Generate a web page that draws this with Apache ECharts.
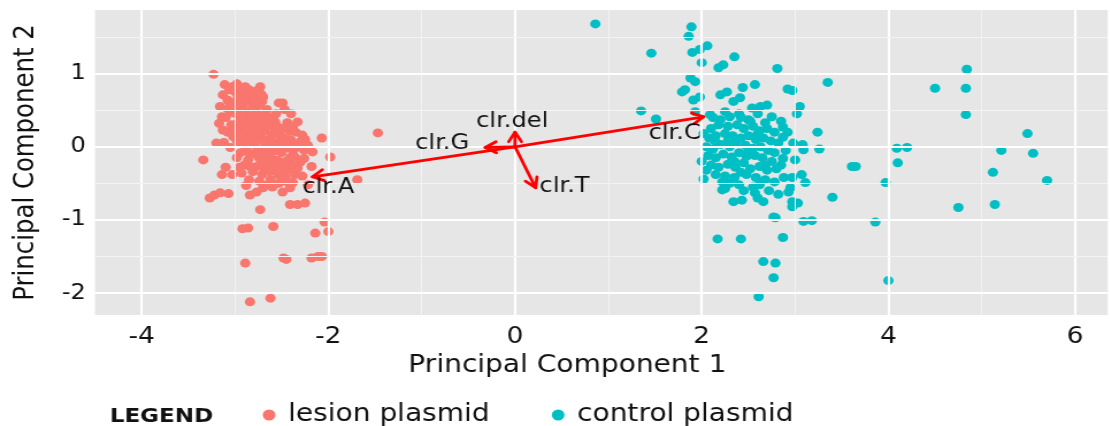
<!DOCTYPE html>
<html><head><meta charset="utf-8">
<script src="https://cdn.jsdelivr.net/npm/echarts@6/dist/echarts.min.js"></script>
<style>
html,body{margin:0;padding:0;background:#fff;overflow:hidden;}
#wrap{width:1110px;height:426px;overflow:hidden;}
#chart{height:426px;transform-origin:0 0;}
</style></head><body>
<div id="wrap"><div id="chart"></div></div>
<script>
// ---- data ----
const xTicks = [-4, -2, 0, 2, 4, 6];
const xMinor = [-3, -1, 1, 3, 5];
const yTicks = [-2, -1, 0, 1];
const yMinor = [-1.5, -0.5, 0.5, 1.5];
const seriesNames = ['lesion plasmid', 'control plasmid'];
const loadingNames = ['clr.A', 'clr.C', 'clr.G', 'clr.T', 'clr.del'];
const loadingX = [-2.17, 2.02, -0.32, 0.22, 0.0];
const loadingY = [-0.41, 0.41, -0.01, -0.56, 0.2];
const labelX = [-2.0, 1.71, -0.78, 0.53, -0.03];
const labelY = [-0.56, 0.18, 0.05, -0.55, 0.34];

const lesion = [
[-3.23,0.99],[-3.11,0.85],[-3.03,0.82],[-2.95,0.81],[-2.89,0.82],[-2.82,0.74],[-2.73,0.82],
[-3.13,0.71],[-3.08,0.64],[-3.02,0.60],[-2.97,0.67],[-2.92,0.55],[-2.84,0.62],[-2.77,0.67],[-2.71,0.62],[-2.66,0.51],[-2.70,0.68],
[-2.49,0.60],[-2.47,0.51],
[-3.14,0.41],[-3.05,0.47],[-2.95,0.40],[-2.86,0.37],[-2.77,0.47],[-2.71,0.34],
[-2.57,0.34],[-2.33,0.34],
[-3.13,0.23],[-3.02,0.14],[-2.92,0.27],[-2.86,0.21],[-2.77,0.14],[-2.68,0.21],[-2.60,0.16],[-2.52,0.16],[-2.41,0.21],[-2.28,0.16],[-2.25,0.10],
[-2.07,0.12],[-3.34,-0.18],
[-3.05,-0.01],[-2.95,0.05],[-2.84,0.10],[-2.73,-0.04],[-2.63,0.00],[-2.54,0.05],[-2.44,-0.01],[-2.34,0.03],
[-2.17,-0.07],[-1.98,-0.14],
[-2.98,-0.15],[-2.86,-0.18],[-2.75,-0.14],[-2.66,-0.21],[-2.55,-0.18],[-2.41,-0.15],[-2.30,-0.21],
[-2.18,-0.27],
[-3.14,-0.38],[-3.03,-0.38],[-2.93,-0.36],[-2.81,-0.34],[-2.71,-0.38],[-2.63,-0.34],[-2.54,-0.38],[-2.43,-0.31],[-2.33,-0.29],
[-3.22,-0.66],[-3.16,-0.63],[-3.07,-0.64],[-3.27,-0.70],
[-2.84,-0.66],[-2.77,-0.62],[-2.70,-0.56],[-2.65,-0.52],
[-2.49,-0.62],[-2.41,-0.56],[-2.38,-0.49],
[-2.41,-0.79],[-2.33,-0.79],[-2.25,-0.77],
[-2.73,-0.86],[-2.92,-1.12],[-2.86,-1.11],[-2.59,-1.09],
[-2.04,-1.03],[-2.14,-1.18],[-2.00,-1.16],
[-2.89,-1.59],[-2.48,-1.52],[-2.45,-1.54],[-2.18,-1.52],[-2.11,-1.50],[-2.07,-1.50],
[-2.84,-2.12],[-2.62,-2.07],
[-1.69,-0.45],[-1.47,0.19],
[-3.00,0.75],[-2.93,0.72],[-2.87,0.69],[-2.80,0.70],[-2.76,0.77],[-2.90,0.62],[-2.98,0.53],[-2.88,0.48],[-2.81,0.55],[-2.74,0.57],
[-2.67,0.45],[-3.08,0.52],[-2.99,0.45],[-2.93,0.45],[-2.82,0.42],[-2.76,0.39],[-2.64,0.40],[-2.61,0.30],[-2.97,0.33],[-2.90,0.33],
[-2.80,0.28],[-2.73,0.27],[-2.66,0.28],[-2.95,0.19],[-2.89,0.14],[-2.82,0.18],[-2.74,0.20],[-2.70,0.10],[-2.63,0.10],[-2.57,0.22],
[-2.47,0.12],[-2.40,0.09],[-2.35,0.20],[-2.30,0.07],[-2.91,0.07],[-2.80,0.03],[-2.68,0.05],[-2.58,-0.06],[-2.50,-0.08],[-2.38,-0.06],
[-2.79,-0.09],[-2.69,-0.11],[-2.90,-0.25],[-2.77,-0.27],[-2.61,-0.27],[-2.50,-0.25],[-2.40,-0.24],[-2.85,-0.45],[-2.62,-0.45],[-2.53,-0.50],
[-2.46,-0.42],[-2.28,-0.40],[-2.22,-0.52],[-3.16,0.55],[-3.17,0.32],[-3.12,0.06],[-2.50,-0.47],
[-3.06,0.78],[-2.98,0.86],[-2.85,0.78],[-2.78,0.60],[-2.72,0.72],[-2.95,0.60],[-3.05,0.56],[-3.10,0.40],[-3.04,0.30],[-3.08,0.20],
[-3.00,0.25],[-2.85,0.30],[-2.78,0.35],[-2.70,0.40],[-2.62,0.36],[-2.55,0.28],[-2.48,0.25],[-2.44,0.33],[-2.38,0.27],[-2.98,0.08],
[-2.88,-0.02],[-2.76,0.08],[-2.66,-0.06],[-2.60,0.06],[-2.52,0.00],[-2.46,0.06],[-2.36,-0.02],[-2.26,-0.05],[-2.22,0.02],[-2.94,-0.08],
[-2.84,-0.10],[-2.72,-0.20],[-2.62,-0.16],[-2.46,-0.20],[-2.36,-0.14],[-2.26,-0.16],[-2.95,-0.28],[-2.84,-0.27],[-2.70,-0.28],[-2.56,-0.30],
[-2.46,-0.33],[-2.36,-0.38],[-2.88,-0.53],[-2.74,-0.47],[-2.60,-0.55],[-2.44,-0.48],[-3.10,-0.28],[-3.20,0.05],[-2.56,0.45],[-2.53,0.60],[-2.40,0.45]
];

const control = [
[0.86,1.68],[1.89,1.64],[1.86,1.51],[1.46,1.28],[1.90,1.29],[1.98,1.33],[2.06,1.38],[2.00,1.15],[2.35,1.23],[2.18,1.08],[2.23,1.12],[2.81,1.07],
[1.88,0.94],[1.93,0.89],[1.79,0.75],[1.82,0.78],[1.98,0.68],[1.91,0.64],[1.35,0.49],[1.51,0.38],[1.93,0.48],[2.09,0.44],
[2.20,0.71],[2.27,0.75],[2.44,0.81],[2.57,0.85],[2.34,0.62],[2.41,0.67],[2.54,0.53],[2.63,0.55],[2.70,0.57],[2.20,0.37],[2.30,0.41],[2.50,0.37],[2.68,0.33],[2.75,0.41],
[3.35,0.88],[4.50,0.80],[4.84,1.06],[4.83,0.80],[4.83,0.44],[5.49,0.18],[5.21,-0.05],[5.55,-0.09],[5.12,-0.35],[5.70,-0.46],[4.75,-0.83],[5.14,-0.79],
[4.09,-0.02],[4.20,-0.01],[4.10,-0.22],[3.97,-0.49],[3.86,-1.03],[4.00,-1.83],[3.61,-0.27],[3.65,-0.27],[3.40,-0.69],[3.24,0.20],[3.26,-0.03],[3.09,-1.02],[3.18,-1.01],[2.87,-1.24],
[3.05,0.55],[3.02,0.45],[2.92,0.79],[2.97,0.77],[2.87,0.27],[2.87,0.13],[2.98,0.05],[3.08,0.03],[3.09,-0.04],[2.87,-0.16],[3.00,-0.18],[2.97,-0.42],[3.07,-0.38],[3.11,-0.49],[2.95,-0.56],[2.93,-0.62],[2.97,-0.75],[3.03,-0.77],[2.97,-0.82],
[2.02,-0.44],[2.22,-0.59],[2.25,-0.57],[2.34,-0.75],[2.43,-0.73],[2.57,-0.63],[2.60,-0.70],[2.66,-0.75],[2.77,-0.96],[2.79,-0.97],
[2.17,-1.26],[2.42,-1.26],[2.66,-1.57],[2.79,-1.59],[2.77,-1.79],[2.61,-2.05],
[2.10,0.25],[2.18,0.30],[2.28,0.28],[2.38,0.30],[2.45,0.25],[2.55,0.28],[2.62,0.22],[2.70,0.25],[2.78,0.20],
[2.08,0.12],[2.15,0.15],[2.25,0.18],[2.33,0.15],[2.42,0.12],[2.50,0.15],[2.58,0.10],[2.66,0.12],[2.74,0.08],[2.82,0.05],
[2.05,0.00],[2.12,-0.03],[2.20,0.03],[2.30,0.00],[2.37,0.05],[2.47,0.02],[2.55,-0.02],[2.63,0.00],[2.71,-0.05],[2.78,-0.08],
[2.07,-0.12],[2.15,-0.15],[2.23,-0.10],[2.32,-0.14],[2.40,-0.08],[2.48,-0.13],[2.57,-0.12],[2.65,-0.15],[2.75,-0.20],
[2.10,-0.25],[2.18,-0.28],[2.28,-0.24],[2.36,-0.28],[2.45,-0.22],[2.52,-0.30],[2.62,-0.27],[2.70,-0.32],[2.80,-0.30],
[2.15,-0.38],[2.25,-0.40],[2.35,-0.42],[2.48,-0.38],[2.58,-0.42],[2.68,-0.45],[2.78,-0.48],
[2.40,-0.52],[2.55,-0.55],[2.30,-0.50],
[2.12,0.40],[2.25,0.48],[2.40,0.45],[2.60,0.45],[2.85,0.35],[2.92,0.20],[2.90,-0.05],[2.85,-0.25],[2.88,-0.42],[2.02,0.18],
[2.00,-0.20],[2.05,-0.32],[2.22,-0.48],[2.45,-0.60],[2.62,-0.52],[2.72,-0.60],[2.82,-0.65],[2.35,-0.20],[2.42,-0.35],[2.50,-0.05],
[2.60,0.18],[2.68,-0.25],[2.14,0.08],[2.28,0.08],[2.52,0.35],[2.42,0.40]
];

// ---- layout / style ----
const S = 1.15; // horizontal stretch of the reference image
const el = document.getElementById('chart');
el.style.width = (1110 / S) + 'px';
el.style.transform = 'scaleX(' + S + ')';
const X = v => v / S;
const FONT = '"DejaVu Sans", Verdana, sans-serif';
const chart = echarts.init(el, null, { renderer: 'canvas' });

const gridLines = [];
xTicks.forEach(v => gridLines.push({ xAxis: v, lineStyle: { color: '#ffffff', width: 2.2, type: 'solid' } }));
xMinor.forEach(v => gridLines.push({ xAxis: v, lineStyle: { color: '#f3f3f3', width: 1, type: 'solid' } }));
yTicks.forEach(v => gridLines.push({ yAxis: v, lineStyle: { color: '#ffffff', width: 2.2, type: 'solid' } }));
yMinor.forEach(v => gridLines.push({ yAxis: v, lineStyle: { color: '#f3f3f3', width: 1, type: 'solid' } }));

chart.setOption({
  animation: false,
  textStyle: { fontFamily: FONT },
  title: {
    text: 'LEGEND', left: X(104), top: 402,
    textStyle: { fontSize: 20, fontWeight: 'bold', color: '#111', fontFamily: FONT }
  },
  legend: {
    data: seriesNames, icon: 'circle', itemWidth: 11, itemHeight: 11,
    left: X(257), top: 398, itemGap: 54,
    textStyle: { fontSize: 24.4, color: '#111', fontFamily: FONT, padding: [0, 0, 0, 6] }
  },
  grid: {
    left: X(95), right: X(2), top: 10, bottom: 111,
    show: true, backgroundColor: '#E6E6E6', borderWidth: 0
  },
  xAxis: {
    type: 'value', min: -4.5, max: 6.35,
    axisLine: { show: false },
    axisTick: { show: true, customValues: xTicks, length: 5, lineStyle: { color: '#8a8a8a', width: 1 } },
    axisLabel: { customValues: xTicks, fontSize: 23, color: '#111', margin: 11, fontFamily: FONT },
    splitLine: { show: false },
    name: 'Principal Component 1', nameLocation: 'middle', nameGap: 38,
    nameTextStyle: { fontSize: 24.4, color: '#111', fontFamily: FONT, padding: [0, X(68), 0, 0] }
  },
  yAxis: {
    type: 'value', min: -2.3, max: 1.87,
    axisLine: { show: false },
    axisTick: { show: true, customValues: yTicks, length: 5, lineStyle: { color: '#8a8a8a', width: 1 } },
    axisLabel: { customValues: yTicks, fontSize: 21, color: '#111', margin: 8, fontFamily: FONT },
    splitLine: { show: false },
    name: 'Principal Component 2', nameLocation: 'middle', nameGap: 48,
    nameTextStyle: { fontSize: 24.4, color: '#111', fontFamily: FONT }
  },
  series: [
    {
      type: 'line', data: [], z: 1, silent: true,
      markLine: { silent: true, symbol: ['none', 'none'], label: { show: false }, animation: false, data: gridLines }
    },
    {
      name: seriesNames[0], type: 'scatter', data: lesion, symbolSize: 9, z: 3,
      itemStyle: { color: '#F8766D', opacity: 1 }
    },
    {
      name: seriesNames[1], type: 'scatter', data: control, symbolSize: 9, z: 3,
      itemStyle: { color: '#00BFC4', opacity: 1 }
    },
    {
      type: 'custom', z: 5, silent: true,
      data: loadingX.map((x, i) => [x, loadingY[i]]),
      renderItem: function (params, api) {
        const o = api.coord([0, 0]);
        const p = api.coord([api.value(0), api.value(1)]);
        const ang = Math.atan2(p[1] - o[1], p[0] - o[0]);
        const L = 11, a = Math.PI / 6;
        const h1 = [p[0] - L * Math.cos(ang - a), p[1] - L * Math.sin(ang - a)];
        const h2 = [p[0] - L * Math.cos(ang + a), p[1] - L * Math.sin(ang + a)];
        const st = { stroke: '#ff0000', lineWidth: 2.8, fill: null, lineCap: 'round', lineJoin: 'round' };
        return { type: 'group', children: [
          { type: 'line', shape: { x1: o[0], y1: o[1], x2: p[0], y2: p[1] }, style: st },
          { type: 'polyline', shape: { points: [h1, p, h2] }, style: st }
        ] };
      }
    },
    {
      type: 'custom', z: 6, silent: true,
      data: labelX.map((x, i) => [x, labelY[i]]),
      renderItem: function (params, api) {
        const c = api.coord([api.value(0), api.value(1)]);
        return { type: 'text', x: c[0], y: c[1], style: {
          text: loadingNames[params.dataIndex], fill: '#111',
          font: '21px ' + FONT, align: 'center', verticalAlign: 'middle'
        } };
      }
    }
  ]
});
</script>
</body></html>
